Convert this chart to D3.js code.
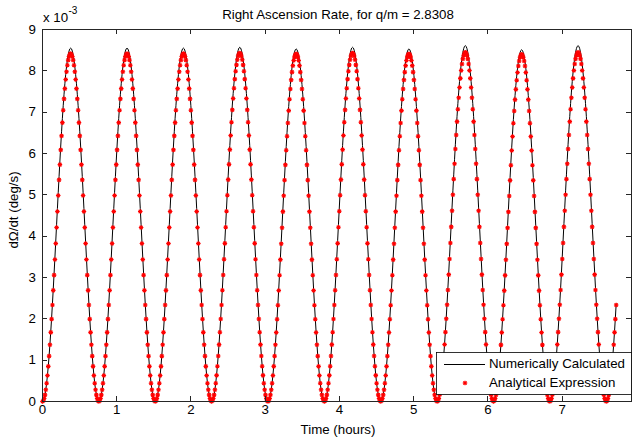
<!DOCTYPE html>
<html>
<head>
<meta charset="utf-8">
<script src="https://cdnjs.cloudflare.com/ajax/libs/d3/7.8.5/d3.min.js"></script>
<style>
	body { margin: 0; background: #fff; }
	svg text { font-family: "Liberation Sans", Arial, sans-serif; font-size: 13.3px; fill: #000; }
	.axis path, .axis line { stroke: #262626; shape-rendering: crispEdges; }
</style>
</head>
<body>
<svg width="635" height="443"></svg>
<script>
// minima of dOmega/dt (hours); the last one is just past the right edge
var troughTimes   = [0, 0.759, 1.518, 2.278, 3.037, 3.797, 4.556, 5.316, 6.075, 6.834, 7.594, 8.353]
// peak heights per orbit, x 1e-3 deg/s
var numericPeaks  = [8.55, 8.55, 8.55, 8.57, 8.53, 8.57, 8.53, 8.61, 8.51, 8.61, 8.55]
var analyticPeaks = [8.42, 8.42, 8.42, 8.43, 8.41, 8.43, 8.41, 8.45, 8.40, 8.45, 8.42]
// rise from a minimum to the next peak, as a fraction of the peak (same samples as the markers)
var halfCycleShape = [0, 0.0021, 0.0085, 0.0191, 0.0338, 0.0524, 0.0749, 0.1010, 0.1305, 0.1632,
	0.1987, 0.2368, 0.2771, 0.3193, 0.3632, 0.4081, 0.4539, 0.5, 0.5461, 0.5920,
	0.6368, 0.6806, 0.7229, 0.7632, 0.8013, 0.8369, 0.8695, 0.8990, 0.9251, 0.9476,
	0.9662, 0.9809, 0.9915, 0.9979, 1]
var endTime = 7.73

var xTicks = [0, 1, 2, 3, 4, 5, 6, 7]
var yTicks = [0, 1, 2, 3, 4, 5, 6, 7, 8, 9]
var xMax   = 7.934

var title  = "Right Ascension Rate, for q/m = 2.8308"
var xLabel = "Time (hours)"
var yLabel = "d\u03A9/dt (deg/s)"
var legendNames = ["Numerically Calculated", "Analytical Expression"]

function buildSeries(peaks){
	var pts = []
	var n = (halfCycleShape.length - 1) * 2
	for (var c = 0; c < peaks.length; c++){
		var t0 = troughTimes[c], t1 = troughTimes[c + 1]
		for (var k = 0; k < n; k++){
			var t = t0 + (t1 - t0) * k / n
			if (t > endTime) return pts
			pts.push([t, peaks[c] * halfCycleShape[k <= n / 2 ? k : n - k]])
		}
	}
	return pts
}

var numeric  = buildSeries(numericPeaks)
var analytic = buildSeries(analyticPeaks)

var svg = d3.select("svg")

var x = d3.scaleLinear().domain([0, xMax]).range([42, 631])
var y = d3.scaleLinear().domain([0, 9]).range([401, 29])

// plot
svg.append("path")
	.datum(numeric)
	.attr("fill", "none")
	.attr("stroke", "#000")
	.attr("stroke-width", 1)
	.attr("d", d3.line().x(function(d){ return x(d[0]) + 0.5 }).y(function(d){ return y(d[1]) + 0.5 }))

function star(r){
	var q = r * 0.72
	return "M" + (-r) + ",0H" + r + "M0," + (-r) + "V" + r +
		"M" + (-q) + "," + (-q) + "L" + q + "," + q + "M" + (-q) + "," + q + "L" + q + "," + (-q)
}

svg.append("g").selectAll("path")
		.data(analytic)
	.enter().append("path")
		.attr("d", star(2.3))
		.attr("stroke", "#f00")
		.attr("stroke-width", 1.1)
		.attr("fill", "none")
		.attr("transform", function(d){ return "translate(" + (x(d[0]) + 0.5) + "," + (y(d[1]) + 0.5) + ")" })

// axes, box with inward ticks
svg.append("g").attr("class", "axis")
	.attr("transform", "translate(0,401)")
	.call(d3.axisBottom(x).tickValues(xTicks).tickSizeInner(-5).tickSizeOuter(0).tickPadding(4).tickFormat(d3.format("d")))
svg.append("g").attr("class", "axis")
	.attr("transform", "translate(0,29)")
	.call(d3.axisTop(x).tickValues(xTicks).tickSizeInner(-5).tickSizeOuter(0).tickFormat(""))
svg.append("g").attr("class", "axis")
	.attr("transform", "translate(42,0)")
	.call(d3.axisLeft(y).tickValues(yTicks).tickSizeInner(-5).tickSizeOuter(0).tickPadding(6).tickFormat(d3.format("d")))
svg.append("g").attr("class", "axis")
	.attr("transform", "translate(631,0)")
	.call(d3.axisRight(y).tickValues(yTicks).tickSizeInner(-5).tickSizeOuter(0).tickFormat(""))

svg.selectAll(".axis text").attr("font-size", null).attr("font-family", null)

// exponent
svg.append("text").attr("x", 43).attr("y", 22).text("x 10")
svg.append("text").attr("x", 68.5).attr("y", 14).style("font-size", "10px").text("-3")

// titles
svg.append("text")
	.attr("x", 338).attr("y", 19)
	.attr("text-anchor", "middle")
	.text(title)
svg.append("text")
	.attr("x", 338).attr("y", 434)
	.attr("text-anchor", "middle")
	.text(xLabel)
svg.append("text")
	.attr("transform", "translate(18,210) rotate(-90)")
	.attr("text-anchor", "middle")
	.text(yLabel)

// legend
var legend = svg.append("g").attr("transform", "translate(436,352)")
legend.append("rect")
	.attr("x", 0.5).attr("y", 0.5)
	.attr("width", 195).attr("height", 42)
	.attr("fill", "#fff")
	.attr("stroke", "#000")
	.attr("stroke-width", 0.8)
legend.append("line")
	.attr("x1", 8).attr("x2", 49)
	.attr("y1", 12.5).attr("y2", 12.5)
	.attr("stroke", "#000")
legend.append("path")
	.attr("d", star(2.3))
	.attr("stroke", "#f00")
	.attr("stroke-width", 1.1)
	.attr("transform", "translate(29,31)")
legend.selectAll(".label")
		.data(legendNames)
	.enter().append("text")
		.attr("class", "label")
		.attr("x", 53)
		.attr("y", function(d, i){ return 16 + i * 19 })
		.text(function(d){ return d })
</script>
</body>
</html>
